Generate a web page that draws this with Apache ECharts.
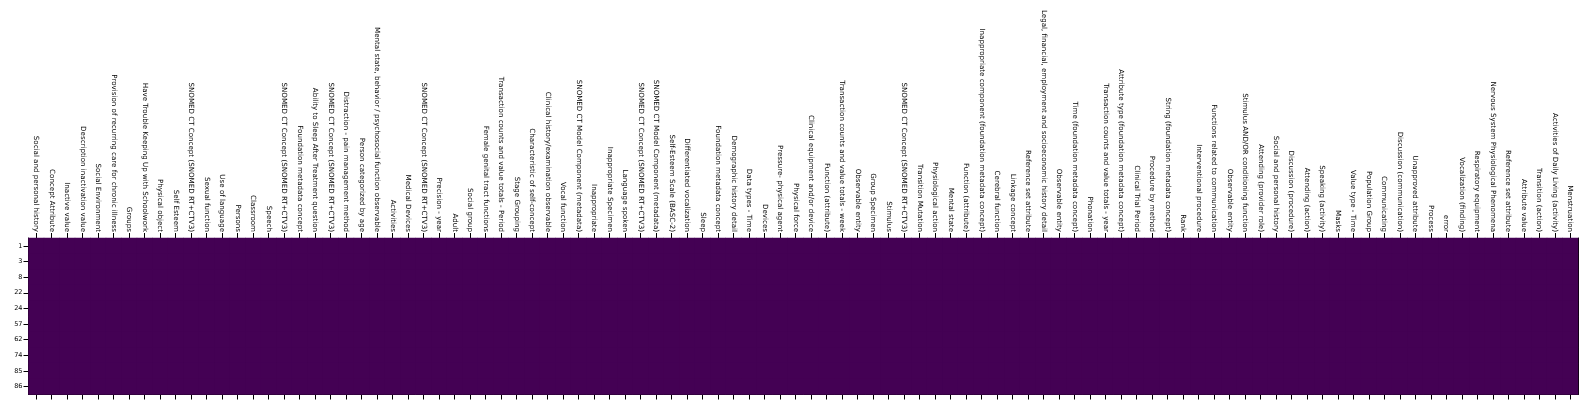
<!DOCTYPE html>
<html><head><meta charset="utf-8">
<script src="https://cdn.jsdelivr.net/npm/echarts@6/dist/echarts.min.js"></script>
<style>html,body{margin:0;padding:0;background:#fff}#c{width:1590px;height:408px}</style>
</head><body><div id="c"></div>
<script>
const columns = [
"Social and personal history","Concept Attribute","Inactive value","Description inactivation value","Social Environment",
"Provision of recurring care for chronic illness","Groups","Have Trouble Keeping Up with Schoolwork","Physical object","Self Esteem",
"SNOMED CT Concept (SNOMED RT+CTV3)","Sexual function","Use of language","Persons","Classroom",
"Speech","SNOMED CT Concept (SNOMED RT+CTV3)","Foundation metadata concept","Ability to Sleep After Treatment question","SNOMED CT Concept (SNOMED RT+CTV3)",
"Distraction - pain management method","Person categorized by age","Mental state, behavior / psychosocial function observable","Activities","Medical Devices",
"SNOMED CT Concept (SNOMED RT+CTV3)","Precision - year","Adult","Social group","Female genital tract functions",
"Transaction counts and value totals - Period","Stage Grouping","Characteristic of self-concept","Clinical history/examination observable","Vocal function",
"SNOMED CT Model Component (metadata)","Inappropriate","Inappropriate Specimen","Language spoken","SNOMED CT Concept (SNOMED RT+CTV3)",
"SNOMED CT Model Component (metadata)","Self-Esteem Scale (BASC-2)","Differentiated vocalization","Sleep","Foundation metadata concept",
"Demographic history detail","Data types - Time","Devices","Pressure- physical agent","Physical force",
"Clinical equipment and/or device","Function (attribute)","Transaction counts and value totals - week","Observable entity","Group Specimen",
"Stimulus","SNOMED CT Concept (SNOMED RT+CTV3)","Transition Mutation","Physiological action","Mental state",
"Function (attribute)","Inappropriate component (foundation metadata concept)","Cerebral function","Linkage concept","Reference set attribute",
"Legal, financial, employment and socioeconomic history detail","Observable entity","Time (foundation metadata concept)","Phonation","Transaction counts and value totals - year",
"Attribute type (foundation metadata concept)","Clinical Trial Period","Procedure by method","String (foundation metadata concept)","Rank",
"Interventional procedure","Functions related to communication","Observable entity","Stimulus AND/OR conditioning function","Attending (provider role)",
"Social and personal history","Discussion (procedure)","Attending (action)","Speaking (activity)","Masks",
"Value type - Time","Population Group","Communicating","Discussion (communication)","Unapproved attribute",
"Process","error","Vocalization (finding)","Respiratory equipment","Nervous System Physiological Phenomena",
"Reference set attribute","Attribute value","Transition (action)","Activities of Daily Living (activity)","Menstruation"
];
const rows = ["1","3","8","22","24","57","62","74","85","86"];
const row1  = [0,0,0,0,0,0,0,0,0,0, 0,0,0,0,0,0,0,0,0,0, 0,0,0,0,0,0,0,0,0,0, 0,0,0,0,0,0,0,0,0,0, 0,0,0,0,0,0,0,0,0,0, 0,0,0,0,0,0,0,0,0,0, 0,0,0,0,0,0,0,0,0,0, 0,0,0,0,0,0,0,0,0,0, 0,0,0,0,0,0,0,0,0,0, 0,0,0,0,0,0,0,0,0,0];
const row3  = [0,0,0,0,0,0,0,0,0,0, 0,0,0,0,0,0,0,0,0,0, 0,0,0,0,0,0,0,0,0,0, 0,0,0,0,0,0,0,0,0,0, 0,0,0,0,0,0,0,0,0,0, 0,0,0,0,0,0,0,0,0,0, 0,0,0,0,0,0,0,0,0,0, 0,0,0,0,0,0,0,0,0,0, 0,0,0,0,0,0,0,0,0,0, 0,0,0,0,0,0,0,0,0,0];
const row8  = [0,0,0,0,0,0,0,0,0,0, 0,0,0,0,0,0,0,0,0,0, 0,0,0,0,0,0,0,0,0,0, 0,0,0,0,0,0,0,0,0,0, 0,0,0,0,0,0,0,0,0,0, 0,0,0,0,0,0,0,0,0,0, 0,0,0,0,0,0,0,0,0,0, 0,0,0,0,0,0,0,0,0,0, 0,0,0,0,0,0,0,0,0,0, 0,0,0,0,0,0,0,0,0,0];
const row22 = [0,0,0,0,0,0,0,0,0,0, 0,0,0,0,0,0,0,0,0,0, 0,0,0,0,0,0,0,0,0,0, 0,0,0,0,0,0,0,0,0,0, 0,0,0,0,0,0,0,0,0,0, 0,0,0,0,0,0,0,0,0,0, 0,0,0,0,0,0,0,0,0,0, 0,0,0,0,0,0,0,0,0,0, 0,0,0,0,0,0,0,0,0,0, 0,0,0,0,0,0,0,0,0,0];
const row24 = [0,0,0,0,0,0,0,0,0,0, 0,0,0,0,0,0,0,0,0,0, 0,0,0,0,0,0,0,0,0,0, 0,0,0,0,0,0,0,0,0,0, 0,0,0,0,0,0,0,0,0,0, 0,0,0,0,0,0,0,0,0,0, 0,0,0,0,0,0,0,0,0,0, 0,0,0,0,0,0,0,0,0,0, 0,0,0,0,0,0,0,0,0,0, 0,0,0,0,0,0,0,0,0,0];
const row57 = [0,0,0,0,0,0,0,0,0,0, 0,0,0,0,0,0,0,0,0,0, 0,0,0,0,0,0,0,0,0,0, 0,0,0,0,0,0,0,0,0,0, 0,0,0,0,0,0,0,0,0,0, 0,0,0,0,0,0,0,0,0,0, 0,0,0,0,0,0,0,0,0,0, 0,0,0,0,0,0,0,0,0,0, 0,0,0,0,0,0,0,0,0,0, 0,0,0,0,0,0,0,0,0,0];
const row62 = [0,0,0,0,0,0,0,0,0,0, 0,0,0,0,0,0,0,0,0,0, 0,0,0,0,0,0,0,0,0,0, 0,0,0,0,0,0,0,0,0,0, 0,0,0,0,0,0,0,0,0,0, 0,0,0,0,0,0,0,0,0,0, 0,0,0,0,0,0,0,0,0,0, 0,0,0,0,0,0,0,0,0,0, 0,0,0,0,0,0,0,0,0,0, 0,0,0,0,0,0,0,0,0,0];
const row74 = [0,0,0,0,0,0,0,0,0,0, 0,0,0,0,0,0,0,0,0,0, 0,0,0,0,0,0,0,0,0,0, 0,0,0,0,0,0,0,0,0,0, 0,0,0,0,0,0,0,0,0,0, 0,0,0,0,0,0,0,0,0,0, 0,0,0,0,0,0,0,0,0,0, 0,0,0,0,0,0,0,0,0,0, 0,0,0,0,0,0,0,0,0,0, 0,0,0,0,0,0,0,0,0,0];
const row85 = [0,0,0,0,0,0,0,0,0,0, 0,0,0,0,0,0,0,0,0,0, 0,0,0,0,0,0,0,0,0,0, 0,0,0,0,0,0,0,0,0,0, 0,0,0,0,0,0,0,0,0,0, 0,0,0,0,0,0,0,0,0,0, 0,0,0,0,0,0,0,0,0,0, 0,0,0,0,0,0,0,0,0,0, 0,0,0,0,0,0,0,0,0,0, 0,0,0,0,0,0,0,0,0,0];
const row86 = [0,0,0,0,0,0,0,0,0,0, 0,0,0,0,0,0,0,0,0,0, 0,0,0,0,0,0,0,0,0,0, 0,0,0,0,0,0,0,0,0,0, 0,0,0,0,0,0,0,0,0,0, 0,0,0,0,0,0,0,0,0,0, 0,0,0,0,0,0,0,0,0,0, 0,0,0,0,0,0,0,0,0,0, 0,0,0,0,0,0,0,0,0,0, 0,0,0,0,0,0,0,0,0,0];
const values = [row1,row3,row8,row22,row24,row57,row62,row74,row85,row86];
const viridis = ['#440154','#482878','#3e4989','#31688e','#26828e','#1f9e89','#35b779','#6ece58','#b5de2b','#fde725'];

const data = [];
values.forEach((r, yi) => r.forEach((v, xi) => data.push([xi, yi, v])));

const font = 'DejaVu Sans';
const chart = echarts.init(document.getElementById('c'), null, {renderer: 'canvas'});
const tickStyle = {show: true, alignWithLabel: true, interval: 0, length: 5, lineStyle: {color: '#000', width: 1}};
chart.setOption({
  animation: false,
  backgroundColor: '#fff',
  grid: {left: 28.5, right: 12, top: 238, bottom: 13.5, containLabel: false,
         show: true, backgroundColor: viridis[0], borderWidth: 0},
  xAxis: [{
    type: 'category', data: columns, position: 'top',
    axisLine: {show: true, lineStyle: {color: '#000', width: 1}},
    axisTick: tickStyle,
    axisLabel: {show: true, interval: 0, rotate: 90, fontSize: 7.1, fontFamily: font, color: '#000', margin: 6},
    splitLine: {show: false}
  }, {
    type: 'category', data: columns, position: 'bottom',
    axisLine: {show: true, lineStyle: {color: '#000', width: 1}},
    axisTick: tickStyle,
    axisLabel: {show: false},
    splitLine: {show: false}
  }],
  yAxis: [{
    type: 'category', data: rows, inverse: true,
    axisLine: {show: true, lineStyle: {color: '#000', width: 1}},
    axisTick: tickStyle,
    axisLabel: {show: true, interval: 0, fontSize: 6.5, fontFamily: font, color: '#000', margin: 6},
    splitLine: {show: false}
  }, {
    type: 'category', data: rows, inverse: true, position: 'right',
    axisLine: {show: true, lineStyle: {color: '#000', width: 1}},
    axisTick: {show: false}, axisLabel: {show: false}, splitLine: {show: false}
  }],
  visualMap: {
    show: false, min: 0, max: 1, dimension: 2,
    inRange: {color: viridis}
  },
  series: [{
    type: 'heatmap', data: data, xAxisIndex: 0, yAxisIndex: 0,
    itemStyle: {borderWidth: 0}, emphasis: {disabled: true}, z: 1
  }]
});
</script></body></html>
